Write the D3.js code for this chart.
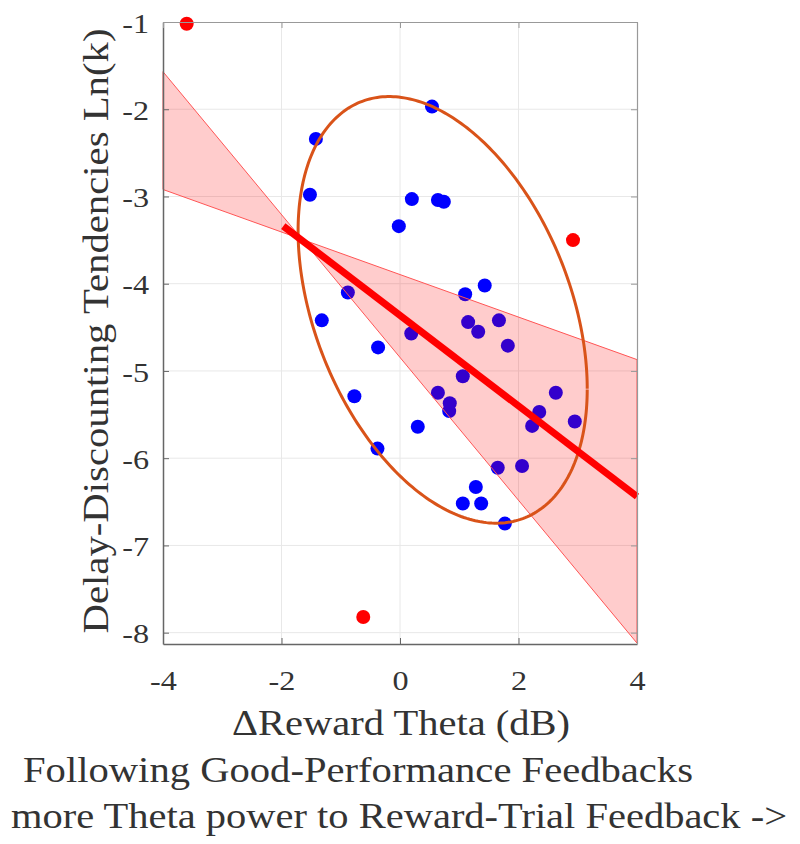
<!DOCTYPE html>
<html>
<head>
<meta charset="utf-8">
<script src="https://cdn.jsdelivr.net/npm/d3@7"></script>
<style>
  body { margin: 0; background: #fff; }
  text { font-family: "Liberation Serif", "Times New Roman", serif; fill: #333; }
</style>
</head>
<body>
<div id="container"></div>
<script>
/* DATA */
const blueX = [0.54, -1.42, -1.52, 0.20, 0.64, 0.74, -0.02, -0.88, -1.32, -0.37, -0.77, -0.38,
  1.10, 1.43, 1.15, 1.32, 1.67, 1.82, 0.19, 1.06, 0.64, 0.84, 0.83, 0.30,
  2.63, 2.35, 2.23, 2.95, 1.65, 2.06, 1.28, 1.06, 1.37, 1.77];
const blueY = [-1.97, -2.34, -2.98, -3.03, -3.04, -3.06, -3.34, -4.10, -4.42, -4.73, -5.29, -5.89,
  -4.12, -4.02, -4.44, -4.55, -4.42, -4.71, -4.57, -5.06, -5.25, -5.37, -5.46, -5.64,
  -5.25, -5.47, -5.63, -5.58, -6.11, -6.09, -6.33, -6.52, -6.52, -6.75];
const redX = [-3.60, 2.92, -0.62];
const redY = [-1.02, -3.50, -7.82];

// regression line and its confidence band (two bounding lines)
const fitX = [-1.97, 4];
const fitY = [-3.34, -6.44];
const bandX = [-4, 4];
const bandSteep = [-1.57, -8.12];
const bandShallow = [-2.92, -4.87];

// covariance ellipse: centre, spread, correlation
const ellCenter = [0.72, -4.30];
const ellSpread = [2.44, 2.445];
const ellRho = -0.37;

const xTicks = [-4, -2, 0, 2, 4];
const yTicks = [-8, -7, -6, -5, -4, -3, -2, -1];

const xLabel = "\u0394Reward Theta (dB)";
const subLine1 = "Following Good-Performance Feedbacks";
const subLine2 = "more Theta power to Reward-Trial Feedback ->";
const yLabel = "Delay-Discounting Tendencies Ln(k)";

/* LAYOUT */
const width = 800, height = 844;
const stretch = 1.15; // glyphs in the figure are wider than Liberation Serif

const svg = d3.select("#container")
  .append("svg")
  .attr("width", width)
  .attr("height", height);

const x = d3.scaleLinear().domain([-4, 4]).range([163, 637]);
const y = d3.scaleLinear().domain([-8.13, -1]).range([644, 22]);

// GRID
svg.append("g")
  .selectAll("line")
  .data(xTicks.slice(1, -1))
  .join("line")
  .attr("x1", d => x(d)).attr("x2", d => x(d))
  .attr("y1", y.range()[1]).attr("y2", y.range()[0])
  .attr("stroke", "#e8e8e8");
svg.append("g")
  .selectAll("line")
  .data(yTicks.filter(d => d !== -1))
  .join("line")
  .attr("y1", d => y(d)).attr("y2", d => y(d))
  .attr("x1", x.range()[0]).attr("x2", x.range()[1])
  .attr("stroke", "#e8e8e8");

// POINTS
const pts = blueX.map((v, i) => ({ x: v, y: blueY[i] }));
svg.append("g")
  .selectAll("circle")
  .data(pts)
  .join("circle")
  .attr("cx", d => x(d.x))
  .attr("cy", d => y(d.y))
  .attr("r", 7)
  .attr("fill", "#0000ff");

const outl = redX.map((v, i) => ({ x: v, y: redY[i] }));
svg.append("g")
  .selectAll("circle")
  .data(outl)
  .join("circle")
  .attr("cx", d => x(d.x))
  .attr("cy", d => y(d.y))
  .attr("r", 7)
  .attr("fill", "#ff0000");

// CONFIDENCE BAND (bow tie)
const bandPts = [
  [bandX[0], bandSteep[0]], [bandX[1], bandSteep[1]],
  [bandX[1], bandShallow[1]], [bandX[0], bandShallow[0]]
];
svg.append("path")
  .attr("d", d3.line().x(d => x(d[0])).y(d => y(d[1]))(bandPts) + "Z")
  .attr("fill", "rgba(255,0,0,0.2)")
  .attr("stroke", "#ff5555")
  .attr("stroke-width", 1);

// ELLIPSE
const ts = d3.range(0, 2 * Math.PI + 0.01, 0.02);
const s = Math.sqrt(1 - ellRho * ellRho);
svg.append("path")
  .attr("d", d3.line()
    .x(t => x(ellCenter[0] + ellSpread[0] * Math.cos(t)))
    .y(t => y(ellCenter[1] + ellSpread[1] * (ellRho * Math.cos(t) + s * Math.sin(t))))(ts))
  .attr("fill", "none")
  .attr("stroke", "#d95319")
  .attr("stroke-width", 3);

// FIT LINE
svg.append("line")
  .attr("x1", x(fitX[0])).attr("y1", y(fitY[0]))
  .attr("x2", x(fitX[1])).attr("y2", y(fitY[1]))
  .attr("stroke", "#ff0000")
  .attr("stroke-width", 7);

// AXES
const fmt = d => String(d);
const axL = svg.append("g")
  .attr("transform", `translate(${x.range()[0]},0)`)
  .call(d3.axisLeft(y).tickValues(yTicks).tickSizeInner(-6).tickSizeOuter(0).tickFormat(fmt));
const axB = svg.append("g")
  .attr("transform", `translate(0,${y.range()[0]})`)
  .call(d3.axisBottom(x).tickValues(xTicks).tickSizeInner(-6).tickSizeOuter(0).tickFormat(fmt));
const axT = svg.append("g")
  .attr("transform", `translate(0,${y.range()[1]})`)
  .call(d3.axisTop(x).tickValues(xTicks).tickSizeInner(-6).tickSizeOuter(0).tickFormat(""));
const axR = svg.append("g")
  .attr("transform", `translate(${x.range()[1]},0)`)
  .call(d3.axisRight(y).tickValues(yTicks).tickSizeInner(-6).tickSizeOuter(0).tickFormat(""));

[axL, axB].forEach(a => {
  a.select(".domain").attr("stroke", "#666").attr("stroke-width", 1.5);
  a.selectAll(".tick line").attr("stroke", "#666");
});
[axT, axR].forEach(a => {
  a.select(".domain").attr("stroke", "#999").attr("stroke-width", 1.2);
  a.selectAll(".tick line").attr("stroke", "#999");
});

axL.selectAll(".tick text")
  .attr("x", -14 / stretch)
  .attr("dy", "0.36em")
  .attr("transform", `scale(${stretch},1)`)
  .style("font-size", "28px")
  .style("font-family", "Liberation Serif")
  .attr("fill", "#333");
axB.selectAll(".tick text")
  .attr("y", 46)
  .attr("dy", 0)
  .attr("transform", `scale(${stretch},1)`)
  .style("font-size", "28px")
  .style("font-family", "Liberation Serif")
  .attr("fill", "#333");

// LABELS
function label(txt, tf, len) {
  svg.append("text")
    .attr("transform", tf)
    .attr("text-anchor", "middle")
    .attr("textLength", len)
    .attr("lengthAdjust", "spacingAndGlyphs")
    .style("font-size", "35px")
    .text(txt);
}
label(xLabel, "translate(401,735)", 338);
label(subLine1, "translate(358,782)", 670);
label(subLine2, "translate(399,828)", 776);
label(yLabel, "translate(108,331) rotate(-90)", 605);
</script>
</body>
</html>
